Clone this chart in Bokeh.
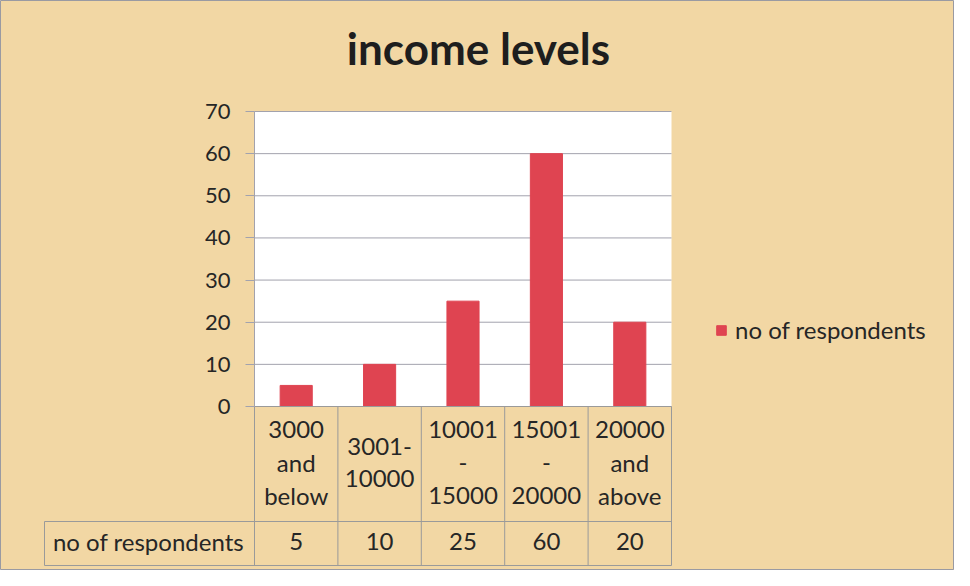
from bokeh.plotting import figure
from bokeh.models import (Legend, LegendItem, Range1d, LinearAxis, FixedTicker)
from bokeh.core.properties import value
from bokeh.embed import file_html
from bokeh.resources import INLINE

# ---------------- data ----------------
title_text = "income levels"
categories = ["3000 and below", "3001-10000", "10001 - 15000", "15001 - 20000", "20000 and above"]
category_lines = [["3000", "and", "below"],
                  ["3001-", "10000"],
                  ["10001", "-", "15000"],
                  ["15001", "-", "20000"],
                  ["20000", "and", "above"]]
series_name = "no of respondents"
respondents = [5, 10, 25, 60, 20]
y_ticks = [0, 10, 20, 30, 40, 50, 60, 70]

# ---------------- layout / style ----------------
W, H = 954, 570
Y_MAX = 70
PLOT_L, PLOT_R, PLOT_T, PLOT_B = 262, 679, 119, 414   # plot area in reference pixels
OFF = 8                                               # page margin
BG = "#f2d7a4"
BAR = "#df4451"
GRID = "#a2a2ad"
CELL = "#9a9a9a"
TXT = "#262626"
FONT = "Lato"
FS_TXT = 24
FS_TICK = 22
FS_TITLE = 44
BASE_K = 0.4   # baseline correction factor (em)

n = len(categories)
cat_px = (PLOT_R - PLOT_L) / n
unit_px = (PLOT_B - PLOT_T) / Y_MAX


def xd(img_x):
    return (img_x - PLOT_L) / cat_px


def yd(img_y):
    return (PLOT_B - img_y) / unit_px


def yb(img_baseline, fs):
    return yd(img_baseline - BASE_K * fs)


p = figure(width=W, height=H,
           x_range=Range1d(xd(OFF), xd(OFF + W)),
           y_range=Range1d(yd(OFF + H), yd(OFF)),
           output_backend="svg", toolbar_location=None,
           min_border=0, x_axis_type=None, y_axis_type=None)
p.border_fill_color = BG
p.background_fill_color = BG
p.outline_line_color = "#9a9aa2"
p.xgrid.visible = False
p.ygrid.visible = False

# white plot area
p.quad(left=0, right=n, bottom=0, top=Y_MAX, fill_color="white", line_color=None)
# horizontal grid lines
p.segment(x0=[0] * len(y_ticks), x1=[n] * len(y_ticks), y0=y_ticks, y1=y_ticks,
          line_color=GRID, line_width=1)

# bars
xs = [i + 0.5 for i in range(n)]
r = p.vbar(x=xs, top=respondents, width=0.385, fill_color=BAR, line_color=BAR)

# y axis drawn at the plot-area edge
yax = LinearAxis(fixed_location=0, ticker=FixedTicker(ticks=y_ticks), bounds=(0, Y_MAX))
yax.axis_line_color = GRID
yax.major_tick_line_color = GRID
yax.major_tick_out = 9
yax.major_tick_in = 0
yax.minor_tick_line_color = None
yax.major_label_standoff = 15
yax.major_label_text_font = FONT
yax.major_label_text_font_size = f"{FS_TICK}px"
yax.major_label_text_color = TXT
p.add_layout(yax, "left")

# title
p.text(x=[xd(486)], y=[yb(73, FS_TITLE)], text=[title_text], text_align="center",
       text_baseline="alphabetic", text_font=value(FONT), text_font_style="bold",
       text_font_size=value(f"{FS_TITLE}px"), text_color="#1e1e1e")

# table grid
row_top, row_mid, row_bot = 414, 529, 573
vx = list(range(n + 1))
p.segment(x0=vx, x1=vx, y0=[yd(row_top)] * len(vx), y1=[yd(row_bot)] * len(vx),
          line_color=CELL, line_width=1)
p.segment(x0=[xd(52), 0, xd(52), xd(52)], x1=[xd(52), n, n, n],
          y0=[yd(row_mid), yd(row_top), yd(row_mid), yd(row_bot)],
          y1=[yd(row_bot), yd(row_top), yd(row_mid), yd(row_bot)],
          line_color=CELL, line_width=1)

# category label texts + values row
base3 = [447, 480, 513]
base2 = [464, 496]
lx, ly, lt = [], [], []
for i, lines in enumerate(category_lines):
    bases = base3 if len(lines) == 3 else base2
    for t, b in zip(lines, bases):
        lx.append(i + 0.5)
        ly.append(yb(b, FS_TXT))
        lt.append(t)
for i, v in enumerate(respondents):
    lx.append(i + 0.5)
    ly.append(yb(559, FS_TXT))
    lt.append(str(v))
lx.append(xd(156))
ly.append(yb(559, FS_TXT))
lt.append(series_name)
p.text(x=lx, y=ly, text=lt, text_align="center", text_baseline="alphabetic",
       text_font=value(FONT), text_font_size=value(f"{FS_TXT}px"), text_color=TXT)

# legend
legend = Legend(items=[LegendItem(label=series_name, renderers=[r])],
                location=(723 - OFF, OFF + H - 352),
                glyph_width=12, glyph_height=12, label_standoff=8,
                padding=0, margin=0, border_line_color=None,
                background_fill_alpha=0, label_text_font=FONT,
                label_text_font_size=f"{FS_TXT}px", label_text_color=TXT)
p.add_layout(legend)

open("out.html", "w").write(file_html(p, INLINE))
